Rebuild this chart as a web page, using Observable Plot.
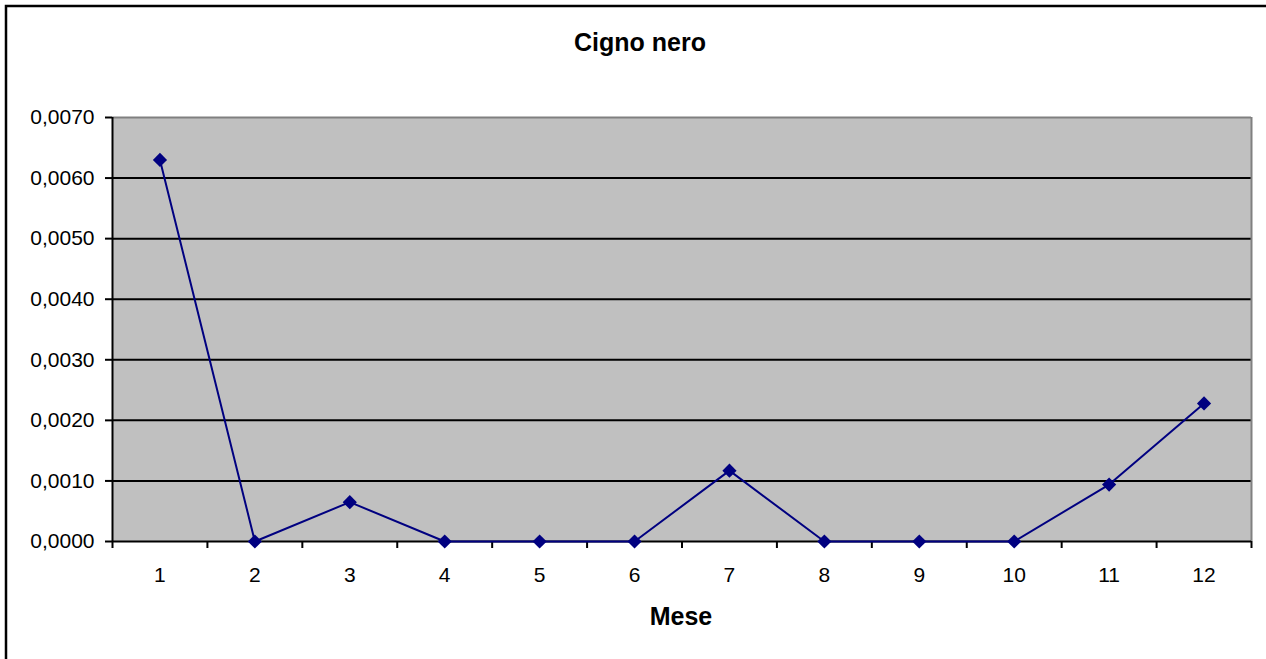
<!DOCTYPE html>
<html><head><meta charset="utf-8">
<script src="https://cdn.jsdelivr.net/npm/d3@7"></script>
<script src="https://cdn.jsdelivr.net/npm/@observablehq/plot@0.6"></script>
<style>body{margin:0;background:#fff}#chart svg{display:block}</style>
</head><body><div id="chart"></div>
<script>
const title = "Cigno nero";
const xLabel = "Mese";
const months = [1, 2, 3, 4, 5, 6, 7, 8, 9, 10, 11, 12];
const values = [0.0063, 0, 0.00065, 0, 0, 0, 0.00117, 0, 0, 0, 0.00094, 0.00228];
const yTicks = [0, 0.001, 0.002, 0.003, 0.004, 0.005, 0.006, 0.007];

const data = months.map((m, i) => ({mese: m, valore: values[i]}));
const boundaries = months.map(m => m - 0.5).concat([months[months.length - 1] + 0.5]);
const fmt = d => d.toFixed(4).replace(".", ",");
const font = "'Liberation Sans', Arial, sans-serif";

const plot = Plot.plot({
  width: 1266, height: 659,
  marginLeft: 112, marginRight: 15, marginTop: 117, marginBottom: 118,
  style: {fontFamily: font, fontSize: "21px", color: "#000", background: "white", overflow: "visible"},
  x: {type: "linear", domain: [boundaries[0], boundaries[boundaries.length - 1]]},
  y: {domain: [0, 0.007]},
  marks: [
    Plot.frame({fill: "#c0c0c0", stroke: null}),
    Plot.ruleY(yTicks.slice(1, -1), {stroke: "#000", strokeWidth: 2}),
    Plot.ruleY([0.007], {stroke: "#808080", strokeWidth: 2}),
    Plot.ruleX([boundaries[boundaries.length - 1]], {stroke: "#808080", strokeWidth: 2}),
    Plot.axisY({ticks: yTicks, tickFormat: fmt, tickSize: 7, tickPadding: 11, strokeWidth: 2, label: null}),
    Plot.axisX({ticks: boundaries, tickFormat: () => "", tickSize: 7, strokeWidth: 2, label: null}),
    Plot.axisX({ticks: months, tickFormat: d => String(d), tickSize: 0, tickPadding: 26, label: null}),
    Plot.ruleX([boundaries[0]], {stroke: "#000", strokeWidth: 2}),
    Plot.ruleY([0], {stroke: "#000", strokeWidth: 2}),
    Plot.line(data, {x: "mese", y: "valore", stroke: "#000080", strokeWidth: 2}),
    Plot.dot(data, {x: "mese", y: "valore", symbol: "diamond2", r: 6.4, fill: "#000080", stroke: null})
  ]
});

const svg = d3.select(plot);
svg.insert("rect", ":first-child")
  .attr("x", 6).attr("y", 6).attr("width", 1300).attr("height", 700)
  .attr("fill", "white").attr("stroke", "#000").attr("stroke-width", 2.5);
svg.append("text").attr("x", 640).attr("y", 51).attr("text-anchor", "middle")
  .attr("font-family", font).attr("font-weight", "bold").attr("font-size", 25).attr("fill", "#000")
  .text(title);
svg.append("text").attr("x", 681).attr("y", 625).attr("text-anchor", "middle")
  .attr("font-family", font).attr("font-weight", "bold").attr("font-size", 25).attr("fill", "#000")
  .text(xLabel);

document.getElementById("chart").appendChild(plot);
</script>
</body></html>
